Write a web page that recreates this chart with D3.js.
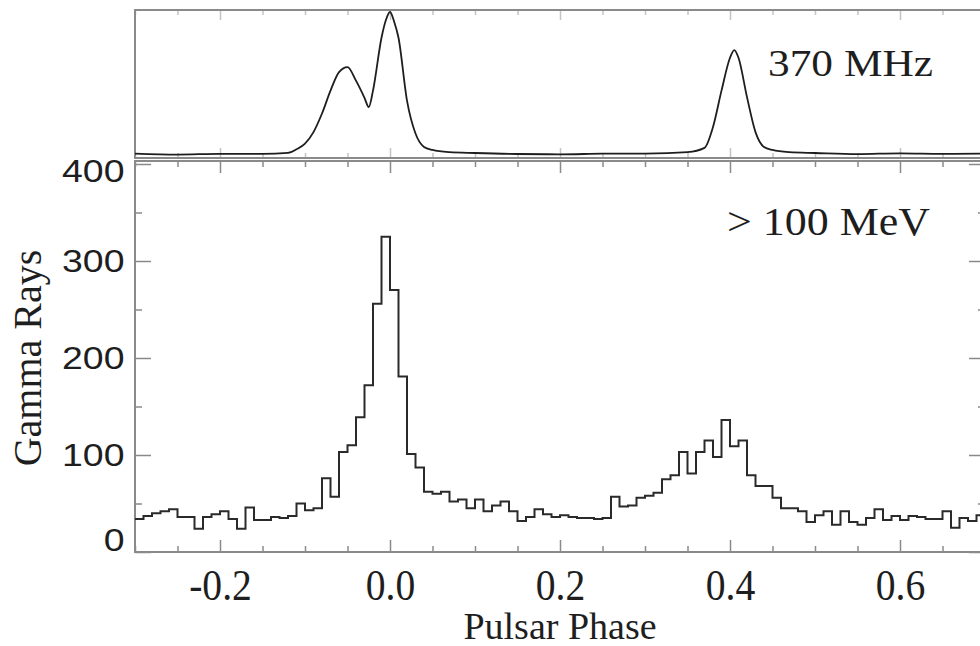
<!DOCTYPE html>
<html>
<head>
<meta charset="utf-8">
<script src="https://cdn.jsdelivr.net/npm/d3@7"></script>
<style>
  body { margin: 0; background: #fff; }
  svg { display: block; }
</style>
</head>
<body>
<div id="chart"></div>
<script>
// gamma-ray light curve, bins of 0.01 in phase starting at -0.30
const binStart = -0.30;
const binWidth = 0.01;
const gammaCounts = [
  34, 37, 40, 42, 44, 36, 36, 24, 36, 39,
  42, 34, 24, 46, 33, 33, 36, 35, 37, 50,
  43, 45, 76, 57, 103, 110, 139, 172, 256, 325,
  270, 181, 101, 87, 62, 60, 62, 52, 54, 45,
  54, 42, 48, 52, 42, 32, 36, 44, 39, 36,
  38, 36, 35, 35, 34, 35, 57, 47, 48, 56,
  58, 61, 75, 79, 103, 81, 103, 115, 98, 136,
  109, 115, 79, 68, 68, 56, 45, 45, 42, 31,
  38, 42, 28, 42, 31, 28, 35, 44, 33, 37,
  33, 37, 36, 34, 34, 42, 25, 35, 32, 38
];

// 370 MHz radio profile (relative flux, peak = 100)
const radioPhase = [-0.30, -0.25, -0.20, -0.15, -0.12, -0.11, -0.10, -0.09, -0.08, -0.07,
  -0.06, -0.05, -0.04, -0.03, -0.025, -0.02, -0.01, -0.005, 0.0, 0.005,
  0.01, 0.02, 0.03, 0.04, 0.05, 0.07, 0.10, 0.15, 0.20, 0.25,
  0.30, 0.35, 0.37, 0.38, 0.39, 0.40, 0.405, 0.41, 0.42, 0.43,
  0.44, 0.45, 0.47, 0.50, 0.55, 0.60, 0.65, 0.70];
const radioFlux = [1.0, 0.3, 0.8, 0.8, 1.5, 4, 8, 16, 29, 45,
  58, 61.5, 52, 40, 33.5, 45, 82, 94, 100, 93,
  82, 38, 15, 5.6, 3.5, 2, 1.4, 0.7, 0.5, 0.9,
  1.0, 2.0, 5, 19.6, 45, 68, 73.4, 68, 40.5, 16,
  5.6, 3.5, 2, 1.4, 0.6, 1.2, 0.8, 1.0];

const phaseTicks = [-0.2, 0.0, 0.2, 0.4, 0.6];
const countTicks = [0, 100, 200, 300, 400];
const countMinorTicks = [50, 150, 250, 350];

const width = 980, height = 646;
const frameColor = "#8a8a8a";
const inkColor = "#1e1e1e";

let svg = d3.select("#chart")
  .append("svg")
  .attr("width", width)
  .attr("height", height);

//scales: the plot runs past the right edge of the picture
const x = d3.scaleLinear().domain([-0.3, 0.7]).range([135, 985]);
const yGamma = d3.scaleLinear().domain([0, 400]).range([552, 164]);
const yRadio = d3.scaleLinear().domain([0, 100]).range([155, 12]);

const upper = { top: 10, bottom: 158 };
const lower = { top: 161, bottom: 552 };
const minorPhase = x.ticks(20).filter(v => !phaseTicks.some(t => Math.abs(t - v) < 1e-9));

svg.append("clipPath").attr("id", "clipLower")
  .append("rect").attr("x", 135).attr("y", lower.top).attr("width", 851).attr("height", lower.bottom - lower.top);
svg.append("clipPath").attr("id", "clipUpper")
  .append("rect").attr("x", 135).attr("y", upper.top).attr("width", 851).attr("height", upper.bottom - upper.top);

//tick helper, ticks always point into the panel
function tickRow(axisFn, values, size, transform) {
  let g = svg.append("g")
    .attr("transform", transform)
    .call(axisFn.tickValues(values).tickSize(size).tickFormat(""));
  g.select(".domain").remove();
  g.selectAll(".tick line").attr("stroke", frameColor).attr("stroke-width", 1.5);
  return g;
}

// upper panel ticks (faint)
tickRow(d3.axisBottom(x), phaseTicks, 10, `translate(0,${upper.top})`).attr("opacity", 0.5);
tickRow(d3.axisBottom(x), minorPhase, 5, `translate(0,${upper.top})`).attr("opacity", 0.5);
tickRow(d3.axisTop(x), phaseTicks, 10, `translate(0,${upper.bottom})`).attr("opacity", 0.5);
tickRow(d3.axisTop(x), minorPhase, 5, `translate(0,${upper.bottom})`).attr("opacity", 0.5);

// lower panel ticks
tickRow(d3.axisTop(x), phaseTicks, 12, `translate(0,${lower.bottom})`);
tickRow(d3.axisTop(x), minorPhase, 6, `translate(0,${lower.bottom})`);
tickRow(d3.axisBottom(x), phaseTicks, 12, `translate(0,${lower.top})`);
tickRow(d3.axisBottom(x), minorPhase, 6, `translate(0,${lower.top})`);
tickRow(d3.axisRight(yGamma), countTicks, 16, "translate(135,0)");
tickRow(d3.axisRight(yGamma), countMinorTicks, 7, "translate(135,0)");
tickRow(d3.axisLeft(yGamma), countTicks, 16, "translate(985,0)");
tickRow(d3.axisLeft(yGamma), countMinorTicks, 7, "translate(985,0)");

// panel frames
[upper, lower].forEach(p => {
  svg.append("rect")
    .attr("x", 135)
    .attr("y", p.top)
    .attr("width", 850)
    .attr("height", p.bottom - p.top)
    .attr("fill", "none")
    .attr("stroke", frameColor)
    .attr("stroke-width", 2);
});

// radio profile
const radioLine = d3.line()
  .x((d, i) => x(radioPhase[i]))
  .y(d => yRadio(d))
  .curve(d3.curveMonotoneX);

svg.append("path")
  .datum(radioFlux)
  .attr("clip-path", "url(#clipUpper)")
  .attr("d", radioLine)
  .attr("fill", "none")
  .attr("stroke", inkColor)
  .attr("stroke-width", 1.8);

// gamma-ray histogram as a step line
let steps = gammaCounts.map((c, i) => [binStart + i * binWidth, c]);
steps.push([binStart + gammaCounts.length * binWidth, gammaCounts[gammaCounts.length - 1]]);

const stepLine = d3.line()
  .x(d => x(d[0]))
  .y(d => yGamma(d[1]))
  .curve(d3.curveStepAfter);

svg.append("path")
  .datum(steps)
  .attr("clip-path", "url(#clipLower)")
  .attr("d", stepLine)
  .attr("fill", "none")
  .attr("stroke", "#2a2a2a")
  .attr("stroke-width", 2);

// y tick labels (wide sans glyphs)
let yLabels = svg.append("g")
  .attr("transform", "translate(135,0)")
  .call(d3.axisLeft(yGamma).tickValues(countTicks).tickSize(0).tickPadding(9));
yLabels.select(".domain").remove();
yLabels.selectAll(".tick text")
  .attr("font-family", "Liberation Sans, Arial, sans-serif")
  .attr("font-size", 32)
  .attr("fill", inkColor)
  .attr("transform", "scale(1.17,1)")
  .attr("dy", d => d === 0 ? "-0.05em" : d === 400 ? "0.55em" : "0.32em");

// x tick labels (tall, narrow serif)
let xLabels = svg.append("g")
  .attr("transform", `translate(0,${lower.bottom})`)
  .call(d3.axisBottom(x).tickValues(phaseTicks).tickSize(0).tickPadding(16).tickFormat(d3.format(".1f")));
xLabels.select(".domain").remove();
xLabels.selectAll(".tick text")
  .attr("font-family", "Liberation Serif, Times New Roman, serif")
  .attr("font-size", 45)
  .attr("fill", inkColor)
  .attr("transform", "scale(0.88,1)")
  .text(d => d3.format(".1f")(d).replace("−", "-"));

// axis titles
svg.append("text")
  .attr("x", x(0.2))
  .attr("y", 639)
  .attr("text-anchor", "middle")
  .attr("font-family", "Liberation Serif, Times New Roman, serif")
  .attr("font-size", 38)
  .attr("fill", inkColor)
  .text("Pulsar Phase");

svg.append("text")
  .attr("transform", `translate(41,${yGamma(200)}) rotate(-90)`)
  .attr("text-anchor", "middle")
  .attr("font-family", "Liberation Serif, Times New Roman, serif")
  .attr("font-size", 40)
  .attr("fill", inkColor)
  .text("Gamma Rays");

// band labels
svg.append("text")
  .attr("x", 768)
  .attr("y", 76)
  .attr("font-family", "Liberation Serif, Times New Roman, serif")
  .attr("font-size", 38)
  .attr("textLength", 165)
  .attr("lengthAdjust", "spacingAndGlyphs")
  .attr("fill", inkColor)
  .text("370 MHz");

svg.append("text")
  .attr("x", 727)
  .attr("y", 235)
  .attr("font-family", "Liberation Serif, Times New Roman, serif")
  .attr("font-size", 40)
  .attr("textLength", 203)
  .attr("lengthAdjust", "spacingAndGlyphs")
  .attr("fill", inkColor)
  .text("> 100 MeV");
</script>
</body>
</html>
